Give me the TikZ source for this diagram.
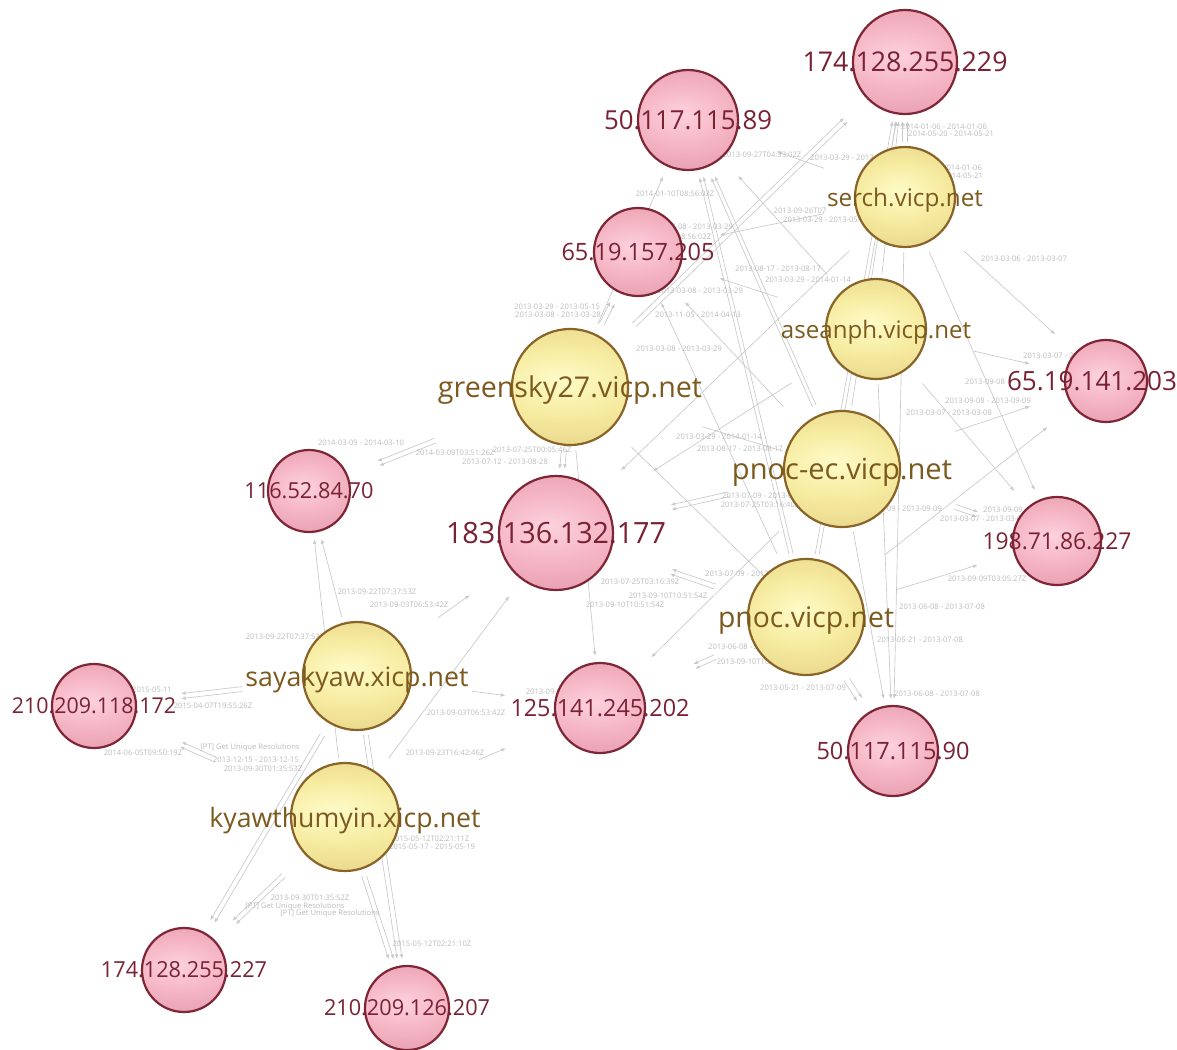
\documentclass[tikz,border=0pt]{standalone}
\usepackage{fontspec}
\setmainfont{Open Sans}
\usepackage{graphicx}
\usetikzlibrary{arrows.meta, backgrounds}

\definecolor{colIpHi}{HTML}{FDD2DD}
\definecolor{colIpMid}{HTML}{F5B5C5}
\definecolor{colIpLo}{HTML}{DC8EA1}
\definecolor{colIpEdge}{HTML}{B86679}
\definecolor{colIpRim}{HTML}{7E2536}
\definecolor{colIpText}{HTML}{7A2233}
\definecolor{colDnHi}{HTML}{FEFBC8}
\definecolor{colDnMid}{HTML}{F6EBA0}
\definecolor{colDnLo}{HTML}{DEC77B}
\definecolor{colDnEdge}{HTML}{C2A35A}
\definecolor{colDnRim}{HTML}{886428}
\definecolor{colDnText}{HTML}{7C5A1E}
\definecolor{colLink}{HTML}{C9C9C9}
\definecolor{colDate}{HTML}{BBBBBB}

\pgfdeclareradialshading{ipball}{\pgfpoint{-2bp}{3bp}}{color(0bp)=(colIpHi); color(14bp)=(colIpMid); color(38bp)=(colIpLo); color(50bp)=(colIpEdge)}
\pgfdeclareradialshading{dnball}{\pgfpoint{-2bp}{3bp}}{color(0bp)=(colDnHi); color(14bp)=(colDnMid); color(38bp)=(colDnLo); color(50bp)=(colDnEdge)}

\newcommand{\fitlbl}[2]{\resizebox{#1pt}{!}{#2}}
\newcommand{\fitip}[3]{\resizebox{#1pt}{#2pt}{#3}}

\begin{document}
\begin{tikzpicture}[
  x=1pt, y=-1pt,
  every node/.style={align=center},
  ipnode/.style={
    rectangle, inner sep=0pt,
    minimum width=2*#1pt+4pt, minimum height=2*#1pt+4pt,
    text=colIpText,
    path picture={\draw[draw=colIpRim, line width=2.2pt, shade, shading=ipball]
      (path picture bounding box.center) circle (#1pt);}
  },
  dnnode/.style={
    rectangle, inner sep=0pt, text depth=0pt,
    minimum width=2*#1pt+4pt, minimum height=2*#1pt+4pt,
    text=colDnText,
    path picture={\draw[draw=colDnRim, line width=2.2pt, shade, shading=dnball]
      (path picture bounding box.center) circle (#1pt);}
  },
  link/.style={draw=colLink, line width=0.65pt,
    -{Latex[length=4.5pt,width=3.6pt]}, shorten >=5pt, shorten <=3pt},
  plainlink/.style={draw=colLink, line width=0.65pt},
  datelbl/.style={text=colDate, font=\fontsize{7.6}{8}\selectfont, inner sep=0pt},
]

\useasboundingbox (0,0) rectangle (1177,1049);

%% ============================================================
%% IP addresses
%% ============================================================
\node[ipnode=52] (ip229) at (905,62)   {\fitip{205}{19.7}{174.128.255.229}};
\node[ipnode=50] (ip89)  at (688,120)  {\fitip{168}{19}{50.117.115.89}};
\node[ipnode=44] (ip205) at (638,252)  {\fitip{153}{17.3}{65.19.157.205}};
\node[ipnode=41] (ip203) at (1106,381) {\hspace*{-28pt}\fitip{170}{19.2}{65.19.141.203}};
\node[ipnode=41] (ip70)  at (309,491)  {\fitip{129}{16}{116.52.84.70}};
\node[ipnode=57] (ip177) at (556,533)  {\fitip{220}{21.2}{183.136.132.177}};
\node[ipnode=44] (ip198) at (1057,541) {\fitip{149}{16.8}{198.71.86.227}};
\node[ipnode=45] (ip202) at (600,708)  {\fitip{179}{17.2}{125.141.245.202}};
\node[ipnode=42] (ip172) at (94,706)   {\fitip{164}{15.8}{210.209.118.172}};
\node[ipnode=45] (ip90)  at (893,751)  {\fitip{153}{17.3}{50.117.115.90}};
\node[ipnode=42] (ip227) at (184,970)  {\fitip{166}{16}{174.128.255.227}};
\node[ipnode=42] (ip207) at (407,1008) {\fitip{166}{16}{210.209.126.207}};

%% ============================================================
%% Domains
%% ============================================================
\node[dnnode=50] (serch)  at (905,197) {\fitlbl{156}{serch.vicp.net}};
\node[dnnode=50] (asean)  at (876,329) {\fitlbl{190}{aseanph.vicp.net}};
\node[dnnode=58] (green)  at (570,387) {\fitlbl{264}{greensky27.vicp.net}};
\node[dnnode=58] (pnocec) at (842,469) {\fitlbl{220}{pnoc-ec.vicp.net}};
\node[dnnode=58] (pnoc)   at (806,617) {\fitlbl{176}{pnoc.vicp.net}};
\node[dnnode=54] (saya)   at (357,676) {\fitlbl{223}{sayakyaw.xicp.net}};
\node[dnnode=54] (kyaw)   at (345,817) {\fitlbl{271}{kyawthumyin.xicp.net}};

%% ============================================================
%% Links (behind the nodes)
%% ============================================================
\begin{scope}[on background layer]
  \fill[white] (0,0) rectangle (1177,1049);

  \foreach \s/\t/\dx/\dy in {
      serch/ip229/-2.5/0, serch/ip229/2.5/0,
      asean/ip229/0/0, pnocec/ip229/0/0,
      pnoc/ip229/-2/0, pnoc/ip229/2/0,
      green/ip229/-1.8/-1.8, green/ip229/1.8/1.8,
      green/ip205/-2.2/-1.1, green/ip205/2.2/1.1,
      green/ip89/0/0,
      green/ip177/-2.5/0, green/ip177/2.5/0,
      green/ip70/-0.9/-2.3, green/ip70/0.9/2.3,
      green/ip202/0/0,
      serch/ip89/0/0, serch/ip205/0/0, serch/ip177/0/0,
      serch/ip203/0/0, serch/ip198/0/0, serch/ip90/0/0,
      asean/ip89/0/0, asean/ip205/0/0, asean/ip177/0/0,
      asean/ip203/0/0, asean/ip198/0/0, asean/ip90/0/0,
      pnocec/ip89/-1.8/0.8, pnocec/ip89/1.8/-0.8,
      pnocec/ip205/0/0,
      pnocec/ip177/-0.5/-2.4, pnocec/ip177/0.5/2.4,
      pnocec/ip203/0/0,
      pnocec/ip198/-0.8/2.4, pnocec/ip198/0.8/-2.4,
      pnocec/ip90/0/0, pnocec/ip202/0/0,
      pnoc/ip89/-2/0.5, pnoc/ip89/2/-0.5,
      pnoc/ip205/0/0,
      pnoc/ip177/-0.8/2.4, pnoc/ip177/0.8/-2.4,
      pnoc/ip203/0/0, pnoc/ip198/0/0,
      pnoc/ip90/-2.5/1.6, pnoc/ip90/2.5/-1.6,
      pnoc/ip202/-1/-2.3, pnoc/ip202/1/2.3,
      saya/ip70/0/0, kyaw/ip70/0/0,
      saya/ip172/0/-2.5, saya/ip172/0/2.5,
      kyaw/ip172/-1/2.3, kyaw/ip172/1/-2.3,
      saya/ip202/0/0, kyaw/ip202/0/0,
      saya/ip177/0/0, kyaw/ip177/0/0,
      saya/ip227/-2.1/-1.3, saya/ip227/2.1/1.3,
      kyaw/ip227/-1.7/-1.8, kyaw/ip227/1.7/1.8,
      saya/ip207/-2.5/0, saya/ip207/2.5/0,
      kyaw/ip207/-2.5/0, kyaw/ip207/2.5/0}
    \draw[link, transform canvas={shift={(\dx,\dy)}}] (\s) -- (\t);

  \draw[plainlink, shorten >=62pt] (green) -- (pnocec.center);
  \draw[plainlink] (green) -- (pnoc.center);

  %% date labels
  \foreach \x/\y/\t [count=\i] in {
      944/127/2014-01-06 - 2014-01-06, 951/134/2014-05-20 - 2014-05-21,
      939/168/2014-01-06 - 2014-01-06, 940/176/2014-05-20 - 2014-05-21,
      762/155/2013-09-27T04:33:02Z, 853/158/2013-03-29 - 2013-05-15,
      675/194/2014-01-10T08:56:03Z, 800/211/2013-09-26T07,
      826/220/2013-03-29 - 2013-05-15, 690/227/2013-03-08 - 2013-03-29,
      672/237/2014-01-10T08:56:02Z, 778/269/2013-08-17 - 2013-08-17,
      808/280/2013-03-29 - 2014-01-14, 700/291/2013-03-08 - 2013-03-29,
      557/307/2013-03-29 - 2013-05-15, 558/315/2013-03-08 - 2013-03-28,
      698/315/2013-11-05 - 2014-04-13, 679/349/2013-03-08 - 2013-03-29,
      1024/259/2013-03-06 - 2013-03-07, 1066/356/2013-03-07 - 2013-03-08,
      985/382/2013-09-08, 988/401/2013-09-08 - 2013-09-09,
      949/413/2013-03-07 - 2013-03-08, 719/437/2013-03-29 - 2014-01-14,
      740/449/2013-08-17 - 2013-08-17, 765/496/2013-07-09 - 2013-07-25,
      760/505/2013-07-25T03:16:40Z, 899/509/2013-09-09 - 2013-09-09,
      1026/510/2013-09-09 - 2013-09-09, 983/519/2013-03-07 - 2013-03-08,
      987/579/2013-09-09T03:05:27Z, 942/607/2013-06-08 - 2013-07-08,
      920/640/2013-05-21 - 2013-07-08, 937/694/2013-06-08 - 2013-07-08,
      640/582/2013-07-25T03:16:39Z, 748/574/2013-07-09 - 2013-07-25,
      625/605/2013-09-10T10:51:54Z, 668/596/2013-09-10T10:51:54Z,
      751/647/2013-06-08 - 2013-07-08, 756/662/2013-09-10T10:51:54Z,
      803/688/2013-05-21 - 2013-07-09, 565/692/2013-09-03T06:53:42Z,
      361/443/2014-03-09 - 2014-03-10, 455/453/2014-03-09T03:51:26Z,
      505/462/2013-07-12 - 2013-08-28, 532/450/2013-07-25T00:05:46Z,
      377/592/2013-09-22T07:37:53Z, 409/605/2013-09-03T06:53:42Z,
      285/637/2013-09-22T07:37:53Z, 152/690/2015-05-11,
      213/706/2015-04-07T19:55:26Z, 143/753/2014-06-05T09:50:19Z,
      250/748/{[PT] Get Unique Resolutions}, 256/760/2013-12-15 - 2013-12-15,
      263/769/2013-09-30T01:35:53Z, 466/713/2013-09-03T06:53:42Z,
      445/753/2013-09-23T16:42:46Z, 430/839/2015-05-12T02:21:11Z,
      432/847/2015-05-17 - 2015-05-19, 310/898/2013-09-30T01:35:52Z,
      295/907/{[PT] Get Unique Resolutions}, 330/914/{[PT] Get Unique Resolutions},
      432/944/2015-05-12T02:21:10Z}
    \node[datelbl] (date\i) at (\x,\y) {\t};
\end{scope}

\end{tikzpicture}
\end{document}
